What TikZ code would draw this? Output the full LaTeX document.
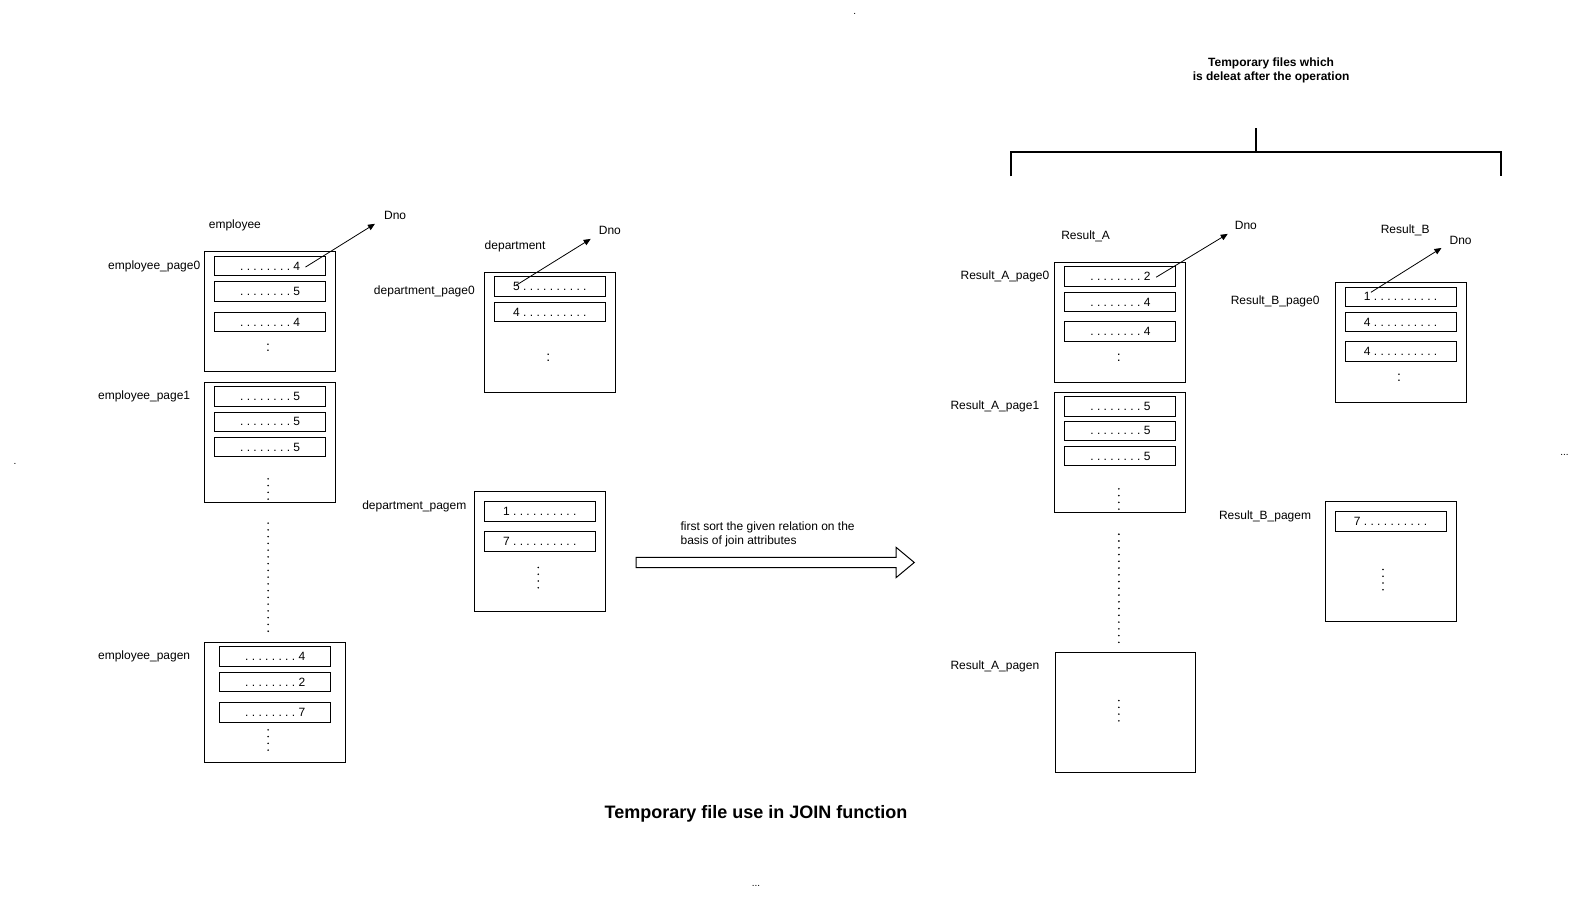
\documentclass[tikz,border=0pt]{standalone}
\usepackage{fontspec}
\setmainfont{Liberation Sans}
\usetikzlibrary{arrows.meta}
\begin{document}
\frenchspacing
\begin{tikzpicture}[x=1.008pt,y=-1.008pt,
  pagebox/.style={draw, line width=1pt, inner sep=0pt, minimum width=131pt, minimum height=120pt},
  rec/.style={draw, line width=1pt, inner sep=0pt, minimum width=111pt, minimum height=19.7pt, font=\fontsize{12}{14}\selectfont},
  lbl/.style={inner sep=0pt, font=\fontsize{12}{14}\selectfont},
  colon/.style={inner sep=0pt, font=\fontsize{14}{16}\selectfont},
  tiny/.style={inner sep=0pt, font=\fontsize{10}{12}\selectfont},
  dnoarrow/.style={-{Triangle[length=7pt,width=6pt]}, line width=0.8pt},
  dotdot/.style={fill=black}
]
\useasboundingbox (0,0) rectangle (1567.46,904.76);

% ---------- stray marks ----------
\node[tiny] (s1) at (848,14) {.};
\node[tiny] (s2) at (15,460) {.};
\node[tiny] (s3) at (1552,451) {...};
\node[tiny] (s4) at (750,879) {...};

% ---------- employee ----------
\node[lbl] (emp) at (233,224) {employee};
\node[lbl] (dno1) at (392,214) {Dno};
\node[lbl] (e0l) at (153,264) {employee\_page0};
\node[lbl] (e1l) at (143,393) {employee\_page1};
\node[lbl] (enl) at (143,651) {employee\_pagen};

\node[pagebox] (e0) at (268,309.5) {};
\node[rec] (e0r1) at (268,264) {. . . . . . . . 4};
\node[rec] (e0r2) at (268,289.5) {. . . . . . . . 5};
\node[rec] (e0r3) at (268,319.5) {. . . . . . . . 4};
\node[colon] (e0c) at (266,345) {:};

\node[pagebox] (e1) at (268,438.5) {};
\node[rec] (e1r1) at (268,393.5) {. . . . . . . . 5};
\node[rec] (e1r2) at (268,418.5) {. . . . . . . . 5};
\node[rec] (e1r3) at (268,443.5) {. . . . . . . . 5};

\node[pagebox, minimum width=141pt] (en) at (273,696.5) {};
\node[rec] (enr1) at (273,651.5) {. . . . . . . . 4};
\node[rec] (enr2) at (273,676.5) {. . . . . . . . 2};
\node[rec] (enr3) at (273,706.5) {. . . . . . . . 7};

\coordinate (a1s) at (303,265);
\coordinate (a1e) at (372,222);
\draw[dnoarrow] (a1s) -- (a1e);

% ---------- department ----------
\node[lbl] (dep) at (511,244) {department};
\node[lbl] (dno2) at (605,229) {Dno};
\node[lbl] (d0l) at (421,289) {department\_page0};
\node[lbl] (dml) at (411,502) {department\_pagem};

\node[pagebox] (d0) at (545.5,329.5) {};
\node[rec] (d0r1) at (545.5,284.5) {5 . . . . . . . . . .};
\node[rec] (d0r2) at (545.5,309.5) {4 . . . . . . . . . .};
\node[colon] (d0c) at (544,355) {:};

\node[pagebox] (dm) at (535.5,547.5) {};
\node[rec] (dmr1) at (535.5,507.5) {1 . . . . . . . . . .};
\node[rec] (dmr2) at (535.5,537) {7 . . . . . . . . . .};

\coordinate (a2s) at (512,283);
\coordinate (a2e) at (586,237);
\draw[dnoarrow] (a2s) -- (a2e);

% ---------- Result_A ----------
\node[lbl] (ra) at (1077,234) {Result\_A};
\node[lbl] (dno3) at (1236,224) {Dno};
\node[lbl] (a0l) at (997,274) {Result\_A\_page0};
\node[lbl] (a1l) at (987,403) {Result\_A\_page1};
\node[lbl] (anl) at (987,661) {Result\_A\_pagen};

\node[pagebox] (a0) at (1111.5,319.5) {};
\node[rec] (a0r1) at (1111.5,274.5) {. . . . . . . . 2};
\node[rec] (a0r2) at (1111.5,299.5) {. . . . . . . . 4};
\node[rec] (a0r3) at (1111.5,329) {. . . . . . . . 4};
\node[colon] (a0c) at (1110,355) {:};

\node[pagebox] (a1) at (1111.5,448.5) {};
\node[rec] (a1r1) at (1111.5,403.5) {. . . . . . . . 5};
\node[rec] (a1r2) at (1111.5,427.5) {. . . . . . . . 5};
\node[rec] (a1r3) at (1111.5,452.5) {. . . . . . . . 5};

\node[pagebox, minimum width=140pt] (an) at (1116.5,706.5) {};

\coordinate (a3s) at (1147,275);
\coordinate (a3e) at (1218,232);
\draw[dnoarrow] (a3s) -- (a3e);

% ---------- Result_B ----------
\node[lbl] (rb) at (1394,229) {Result\_B};
\node[lbl] (dno4) at (1449,239) {Dno};
\node[lbl] (b0l) at (1265,299) {Result\_B\_page0};
\node[lbl] (bml) at (1255,512) {Result\_B\_pagem};

\node[pagebox] (b0) at (1389.5,339.5) {};
\node[rec] (b0r1) at (1389.5,294.5) {1 . . . . . . . . . .};
\node[rec] (b0r2) at (1389.5,319.5) {4 . . . . . . . . . .};
\node[rec] (b0r3) at (1389.5,349) {4 . . . . . . . . . .};
\node[colon] (b0c) at (1388,375) {:};

\node[pagebox] (bm) at (1379.5,557.5) {};
\node[rec] (bmr1) at (1379.5,517.5) {7 . . . . . . . . . .};

\coordinate (a4s) at (1360,290);
\coordinate (a4e) at (1430,246);
\draw[dnoarrow] (a4s) -- (a4e);

% ---------- dot columns ----------
\foreach \x/\y/\n in {266/475/3, 266/724/3, 534/563/3, 1110/485/3, 1110/695/3, 1372/565/3, 266/519/16, 1110/530/16}{
  \foreach \i in {0,...,\n}{
    \fill[dotdot] (\x,{\y+\i*6.7}) circle (0.9pt);
  }
}

% ---------- block arrow ----------
\draw[line width=1pt, fill=white] (631,553) -- (889,553) -- (889,543) -- (907,558) -- (889,573) -- (889,563) -- (631,563) -- cycle;
\node[lbl, align=left, anchor=west] (sortlbl) at (675,530) {first sort the given relation on the\\basis of join attributes};

% ---------- bracket ----------
\node[inner sep=0pt, align=center, font=\bfseries\fontsize{12}{14}\selectfont] (tmp) at (1261,70) {Temporary files which\\is deleat after the operation};
\draw[line width=2pt] (1003,175) -- (1003,151) -- (1489,151) -- (1489,175);
\draw[line width=2pt] (1246,127) -- (1246,151);

% ---------- title ----------
\node[inner sep=0pt, font=\bfseries\fontsize{18}{21}\selectfont] (title) at (750,807) {Temporary file use in JOIN function};
\end{tikzpicture}
\end{document}
